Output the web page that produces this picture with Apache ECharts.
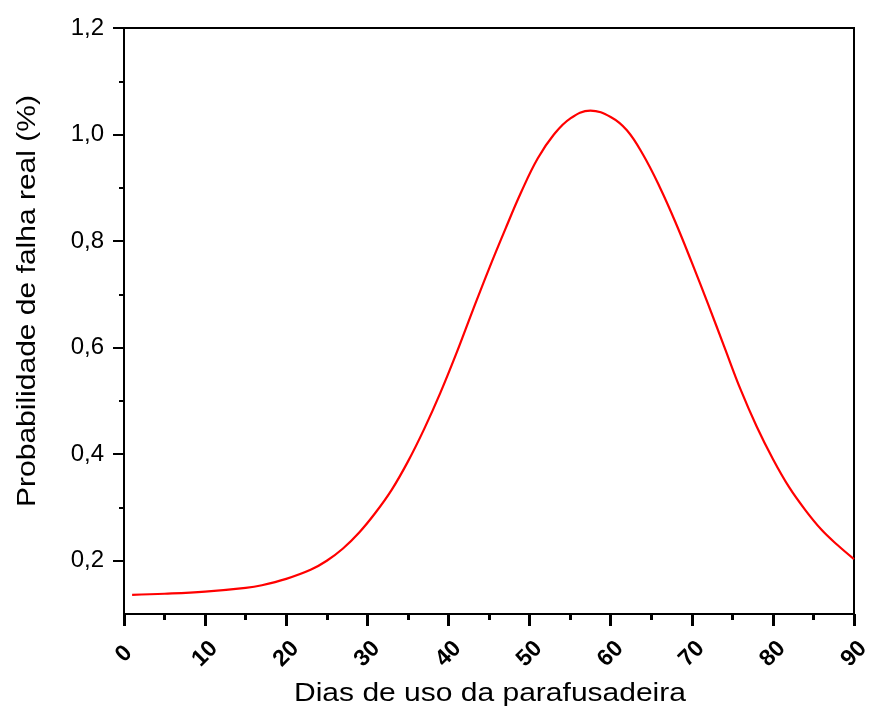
<!DOCTYPE html>
<html>
<head>
<meta charset="utf-8">
<script src="https://cdn.jsdelivr.net/npm/echarts@6/dist/echarts.min.js"></script>
<style>
  html, body { margin: 0; padding: 0; background: #fff; }
  #main { width: 875px; height: 713px; }
</style>
</head>
<body>
<div id="main"></div>
<script>
// dias de uso (eixo x) e probabilidade de falha (%)
const dias = [1, 5, 10, 15, 17, 20, 23, 25, 27, 29, 31, 33, 35, 37, 39, 41, 43, 45, 47, 49, 51, 53, 55, 57.5,
  60, 62, 64, 66, 68, 70, 72, 74, 76, 78, 80, 82, 84, 86, 88, 90];
const probFalha = [0.136, 0.138, 0.142, 0.149, 0.154, 0.166, 0.183, 0.200, 0.223, 0.253, 0.290, 0.333, 0.386, 0.447, 0.515, 0.590, 0.670, 0.748, 0.822, 0.893, 0.955, 1.000, 1.030, 1.045,
  1.033, 1.008, 0.962, 0.903, 0.835, 0.760, 0.682, 0.602, 0.522, 0.452, 0.391, 0.338, 0.295, 0.258, 0.229, 0.203];
const yMajorTicks = [0.2, 0.4, 0.6, 0.8, 1.0, 1.2];
const yMinorTicks = [0.3, 0.5, 0.7, 0.9, 1.1];

const fontFam = 'Liberation Sans, Arial, sans-serif';
const chart = echarts.init(document.getElementById('main'));

chart.setOption({
  animation: false,
  backgroundColor: '#fff',
  grid: {
    left: 124, right: 21, top: 28, bottom: 99,
    show: true, borderColor: '#000', borderWidth: 2
  },
  xAxis: {
    type: 'value',
    min: 0, max: 90, interval: 10,
    axisLine: { onZero: false, lineStyle: { color: '#000', width: 2 } },
    axisTick: { inside: false, length: 12, lineStyle: { color: '#000', width: 3 } },
    minorTick: { show: true, splitNumber: 2, length: 6, lineStyle: { color: '#000', width: 3 } },
    splitLine: { show: false },
    axisLabel: {
      rotate: 45, align: 'center', verticalAlign: 'middle', margin: 40,
      fontFamily: fontFam, fontSize: 23, fontWeight: 'bold', color: '#000'
    }
  },
  yAxis: [{
    type: 'value',
    min: 0.1, max: 1.2,
    position: 'left',
    axisLine: { show: true, lineStyle: { color: '#000', width: 2 } },
    axisTick: { show: true, length: 11, customValues: yMajorTicks, lineStyle: { color: '#000', width: 2 } },
    splitLine: { show: false },
    axisLabel: {
      customValues: yMajorTicks,
      margin: 20,
      fontFamily: fontFam, fontSize: 24, color: '#000',
      formatter: v => v.toFixed(1).replace('.', ',')
    }
  }, {
    type: 'value',
    min: 0.1, max: 1.2,
    position: 'left',
    axisLine: { show: false },
    axisTick: { show: true, length: 5, customValues: yMinorTicks, lineStyle: { color: '#000', width: 2 } },
    splitLine: { show: false },
    axisLabel: { show: false }
  }],
  graphic: [{
    type: 'text',
    x: 28, y: 301,
    rotation: Math.PI / 2,
    scaleX: 1.2,
    style: {
      text: 'Probabilidade de falha real (%)',
      fontFamily: fontFam, fontSize: 25, fill: '#000',
      align: 'center', verticalAlign: 'middle'
    }
  }, {
    type: 'text',
    x: 490, y: 694,
    scaleX: 1.2,
    style: {
      text: 'Dias de uso da parafusadeira',
      fontFamily: fontFam, fontSize: 25, fill: '#000',
      align: 'center', verticalAlign: 'middle'
    }
  }],
  series: [{
    type: 'line',
    data: dias.map((d, i) => [d, probFalha[i]]),
    smooth: 0.4,
    showSymbol: false,
    lineStyle: { color: '#ff0000', width: 2.2 },
    itemStyle: { color: '#ff0000' }
  }]
});
</script>
</body>
</html>
